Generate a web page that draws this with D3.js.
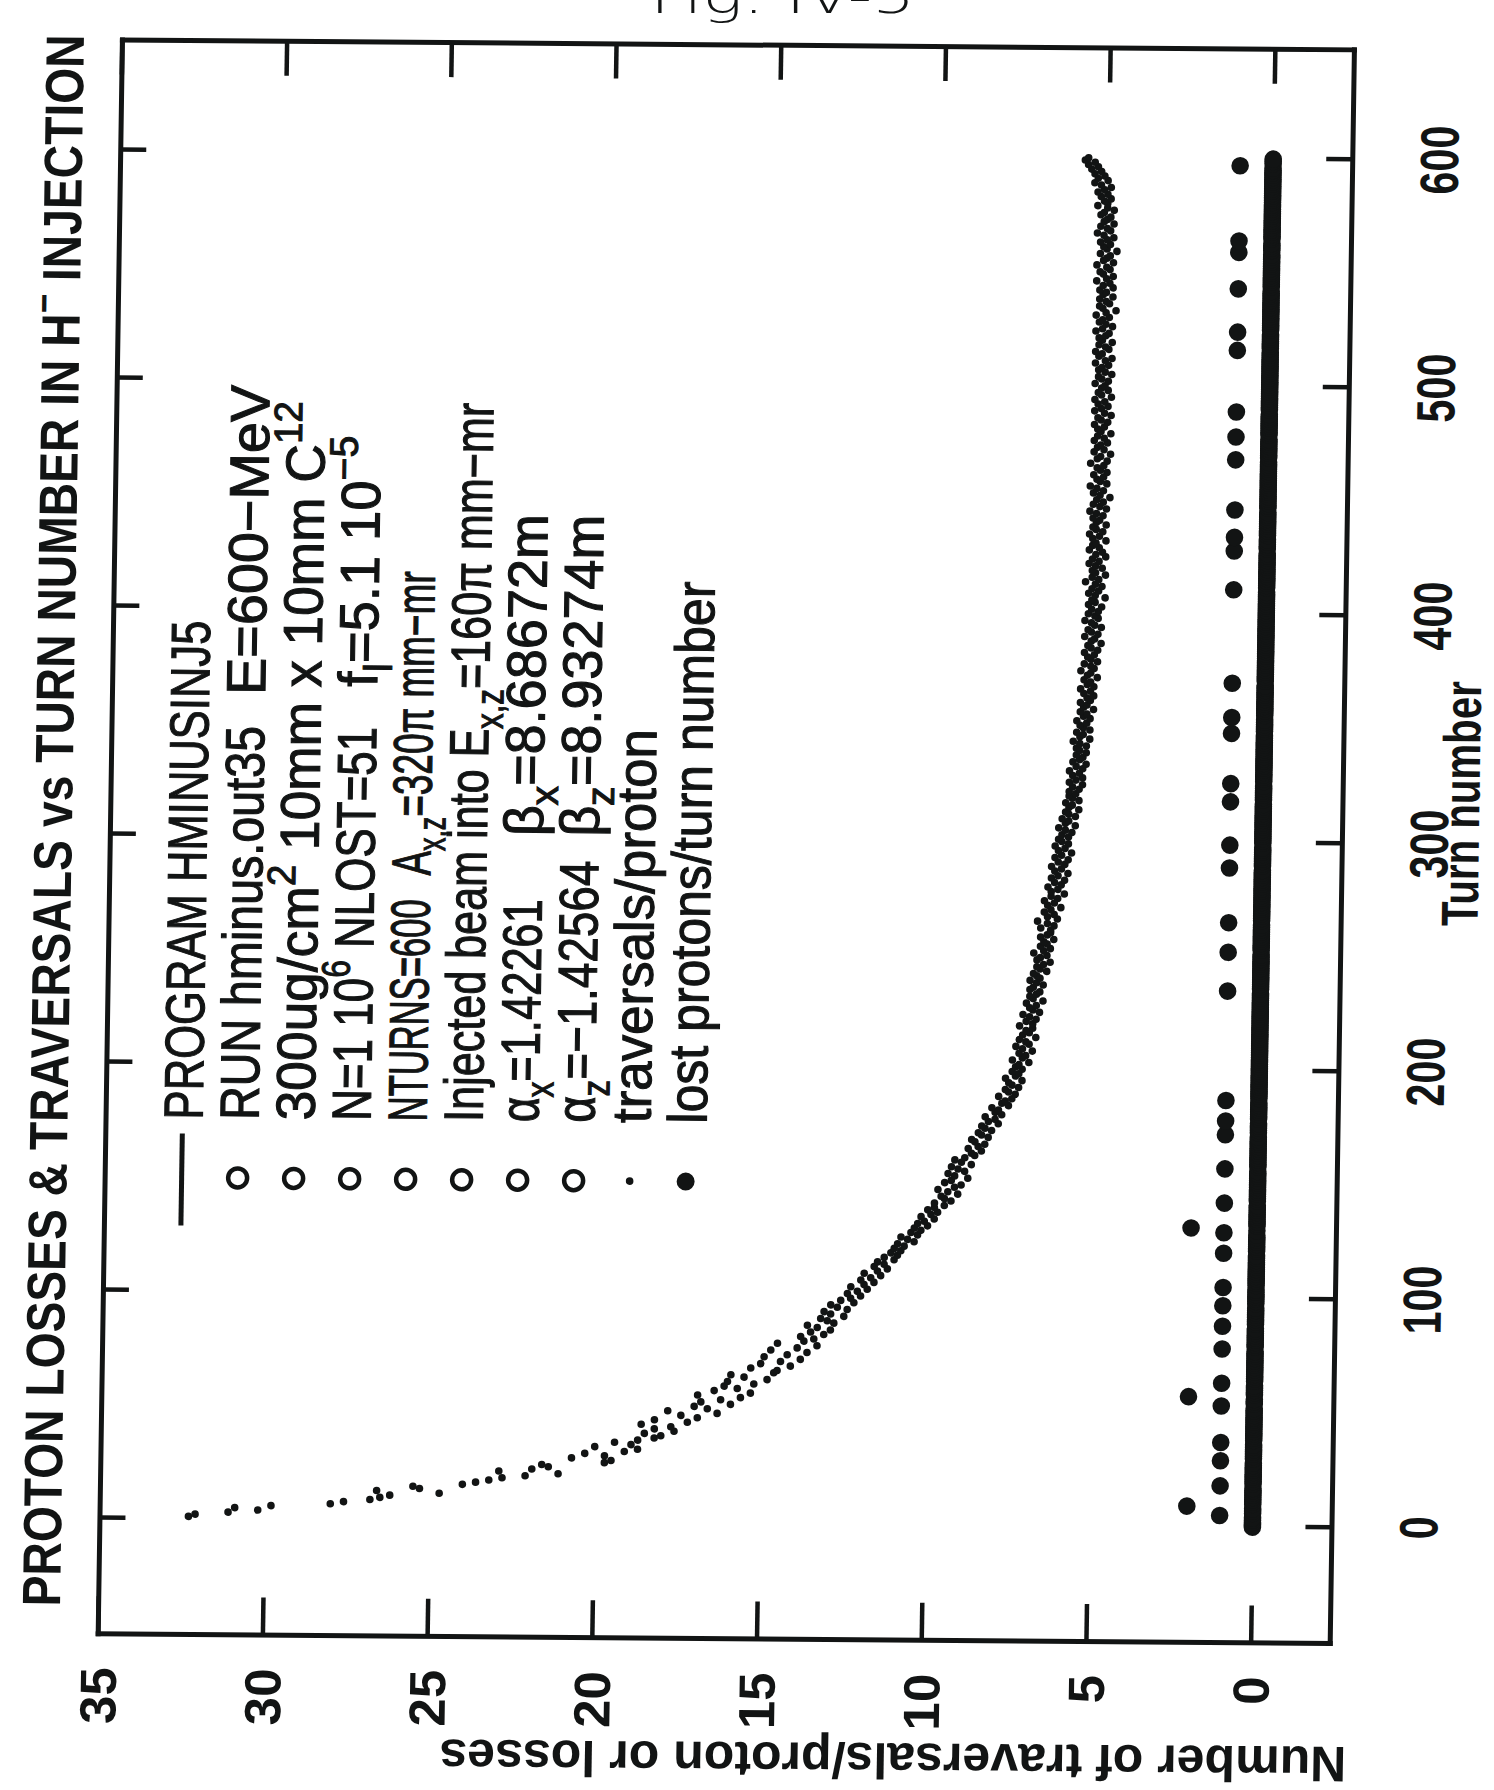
<!DOCTYPE html>
<html>
<head>
<meta charset="utf-8">
<script src="https://cdn.jsdelivr.net/npm/d3@7"></script>
<style>
  body { margin: 0; background: #fff; }
  svg { display: block; }
</style>
</head>
<body>
<div id="chart"></div>
<script>
// ---- data ----
const turnTicks = [0, 100, 200, 300, 400, 500, 600];
const valueTicks = [0, 5, 10, 15, 20, 25, 30, 35];

// traversals per proton, one value per turn (turns 1..600)
const traversals = [
  32.3,32.1,31.1,30.2,30.9,29.8,28.0,27.6,26.8,26.5,26.2,24.7,26.6,25.3,25.5,24.0,23.6,23.2,22.8,22.1,
  21.1,22.9,21.9,21.4,21.6,19.7,19.5,20.7,19.7,20.3,19.1,18.7,20.0,18.9,19.4,18.7,18.2,18.0,18.5,17.6,
  18.2,17.7,18.6,17.2,18.2,16.9,17.4,16.3,17.8,16.6,17.0,15.9,16.8,16.2,15.6,16.9,15.3,16.4,15.7,16.1,
  15.2,16.0,14.8,15.5,15.9,14.6,14.5,15.3,14.1,15.0,14.4,13.8,14.9,14.2,13.6,14.7,13.9,13.3,14.5,13.7,
  13.4,13.8,13.1,13.5,12.9,13.3,13.6,12.8,13.0,13.2,12.5,12.9,13.1,12.4,12.7,12.9,12.2,12.6,12.3,12.0,
  12.4,12.1,11.8,12.3,11.9,11.6,12.0,11.7,11.4,11.9,11.5,11.2,11.6,11.3,11.5,11.0,11.3,10.9,11.1,10.8,
  11.0,10.7,10.9,10.4,10.6,10.8,10.3,10.5,10.2,10.4,10.0,10.3,10.1,9.8,10.2,9.9,9.7,10.0,9.8,9.5,
  9.8,9.3,9.5,9.6,9.1,9.4,9.7,9.2,9.0,9.5,9.3,8.8,9.2,9.4,8.9,9.1,9.3,8.7,9.0,9.2,
  8.9,8.6,8.7,8.4,8.8,8.5,8.3,8.6,8.7,8.2,8.4,8.5,8.1,8.3,8.4,7.9,8.2,8.0,8.3,7.8,
  8.0,7.9,8.1,7.6,7.8,7.7,7.5,7.9,7.4,7.6,7.7,7.3,7.5,7.6,7.2,7.7,7.4,7.3,7.5,7.2,
  7.4,7.3,7.0,7.5,7.2,7.1,7.3,6.9,7.2,7.4,7.0,7.1,7.3,6.8,7.2,7.0,7.1,6.9,7.3,6.9,
  7.1,6.8,7.0,7.2,6.7,6.9,7.0,6.8,7.1,6.6,6.9,7.0,6.8,6.7,7.0,6.9,6.6,6.8,7.0,6.7,
  6.8,6.9,6.5,6.7,6.8,6.6,6.4,6.8,6.7,6.5,6.9,6.6,6.4,6.7,6.5,6.6,6.3,6.7,6.5,6.4,
  6.4,6.7,6.3,6.5,6.8,6.2,6.5,6.3,6.6,6.4,6.1,6.5,6.3,6.6,6.2,6.4,6.0,6.4,6.2,6.5,
  6.1,6.3,6.0,6.4,6.2,5.9,6.3,6.1,6.4,6.0,6.2,5.9,6.3,6.1,5.8,6.2,6.0,6.3,5.9,6.1,
  6.2,5.9,6.1,5.8,6.0,6.2,5.7,6.0,5.9,6.1,5.7,5.9,6.0,5.6,5.9,5.8,6.0,5.6,5.8,5.9,
  5.7,5.9,5.6,5.8,5.5,5.9,5.7,5.5,5.8,5.6,5.9,5.5,5.7,5.4,5.8,5.6,5.5,5.7,5.4,5.6,
  5.7,5.4,5.6,5.8,5.3,5.6,5.5,5.7,5.3,5.5,5.6,5.4,5.7,5.3,5.5,5.4,5.6,5.2,5.5,5.4,
  5.6,5.3,5.4,5.2,5.5,5.3,5.6,5.2,5.4,5.3,5.5,5.1,5.4,5.3,5.6,5.2,5.3,5.5,5.1,5.3,
  5.4,5.2,5.5,5.1,5.3,5.4,5.0,5.3,5.2,5.5,5.1,5.3,5.4,5.0,5.2,5.3,5.5,5.1,5.2,5.4,
  5.1,5.3,5.0,5.4,5.2,5.3,4.9,5.2,5.4,5.1,5.3,5.0,5.2,5.5,5.1,5.3,4.9,5.2,5.3,5.0,
  5.2,5.4,5.1,5.3,4.9,5.2,5.0,5.4,5.1,5.3,5.2,4.9,5.3,5.1,5.4,5.0,5.2,5.3,4.9,5.2,
  5.1,5.3,5.0,5.2,5.4,4.9,5.1,5.3,5.0,5.2,4.8,5.1,5.3,5.0,5.2,5.4,4.9,5.1,5.2,5.0,
  5.3,4.9,5.1,5.2,5.0,5.4,4.9,5.2,5.1,4.8,5.3,5.0,5.2,5.1,4.9,5.3,5.0,5.2,4.8,5.1,
  5.2,5.0,5.3,4.9,5.1,5.2,4.8,5.0,5.3,5.1,4.9,5.2,5.0,5.3,4.8,5.1,5.2,4.9,5.1,5.0,
  5.3,4.9,5.1,5.2,4.8,5.0,5.2,5.1,4.9,5.3,5.0,4.8,5.2,5.1,5.3,4.9,5.0,5.2,4.8,5.1,
  5.2,5.0,4.9,5.3,5.1,4.8,5.0,5.2,5.1,4.9,5.3,5.0,4.7,5.1,5.2,4.9,5.0,5.2,4.8,5.1,
  5.0,5.2,4.8,5.1,4.9,5.3,5.0,4.8,5.1,5.2,4.9,5.0,5.3,4.8,5.1,5.0,4.9,5.2,4.7,5.0,
  5.1,4.9,5.2,5.0,4.8,5.1,5.3,4.9,5.0,5.2,4.8,5.1,5.0,4.9,5.2,5.1,4.8,5.0,5.3,5.0,
  5.1,4.9,5.2,5.0,5.3,5.1,4.9,5.2,5.4,5.0,5.3,5.1,5.4,5.2,5.5,5.3,5.6,5.4,5.7,5.6
];

// turns where protons were lost, and how many (all other turns: 0)
const lostTurns = [5,9,18,29,37,53,57,63,78,88,97,105,120,129,131,142,157,172,178,187,
  235,252,265,289,299,318,326,348,355,370,411,428,434,446,468,478,489,516,524,543,559,564,597];
const lostCounts = [1,2,1,1,1,1,2,1,1,1,1,1,1,1,2,1,1,1,1,1,
  1,1,1,1,1,1,1,1,1,1,1,1,1,1,1,1,1,1,1,1,1,1,1];

const titleText = "PROTON LOSSES & TRAVERSALS vs TURN NUMBER IN H^{−} INJECTION";
const xTitle = "Turn number";
const yTitle = "Number of traversals/proton or losses";

const legendSymbols = ["line","circle","circle","circle","circle","circle","circle","circle","dot","bigdot"];
const legendLeft = [
  "PROGRAM  HMINUSINJ5",
  "RUN hminus.out35",
  "300ug/cm^{2}  10mm x 10mm C^{12}",
  "N=1  10^{6} NLOST=51",
  "NTURNS=600",
  "Injected beam into E_{x,z}=160π mm−mr",
  "α_{x}=1.42261",
  "α_{z}=−1.42564",
  "traversals/proton",
  "lost protons/turn number"
];
const legendRight = [null, "E=600−MeV", null, "f_{l}=5.1 10^{−5}", "A_{x,z}=320π mm−mr", null,
  "β_{x}=8.68672m", "β_{z}=8.93274m", null, null];

// ---- layout ----
const W = 1494, H = 1790;
const ink = "#121414";
const sans = "'Liberation Sans', Arial, Helvetica, sans-serif";

const svg = d3.select("#chart").append("svg")
  .attr("width", W).attr("height", H)
  .style("background", "#fff");

// handwritten tag, mostly cut by the top edge of the scan
svg.append("text")
  .attr("x", 650).attr("y", 13)
  .attr("font-family", "'DejaVu Sans', sans-serif")
  .attr("font-weight", 200)
  .attr("font-size", 48)
  .attr("textLength", 265).attr("lengthAdjust", "spacingAndGlyphs")
  .attr("fill", ink)
  .text("Fig. IV-5");

// the scanned page is slightly skewed, the plot itself is turned a quarter left
const page = svg.append("g")
  .attr("transform", "translate(747,895) matrix(1,0.008,-0.0152,1,0,0) translate(-747,-895)");
const g = page.append("g").attr("transform", `translate(0,${H}) rotate(-90)`);

const x = d3.scaleLinear().domain([-51, 648]).range([150.7, 1744.4]);
const y = d3.scaleLinear().domain([-2.4, 35]).range([1341, 109]);

function richText(sel, str, fs) {
  let shift = 0;
  str.split(/(\^\{[^}]*\}|_\{[^}]*\})/).filter(s => s).forEach(part => {
    const m = part.match(/^([\^_])\{(.*)\}$/);
    const target = m ? (m[1] === "^" ? -0.42 * fs : 0.26 * fs) : 0;
    sel.append("tspan")
      .attr("dy", target - shift)
      .attr("font-size", m ? fs * 0.72 : fs)
      .text(m ? m[2] : part);
    shift = target;
  });
}

function styleAxis(ax) {
  ax.select(".domain").attr("stroke", ink).attr("stroke-width", 5).attr("stroke-linecap", "square");
  ax.selectAll(".tick line").attr("stroke", ink).attr("stroke-width", 4.5);
}

// frame + ticks
const axB = g.append("g").attr("transform", `translate(0,${y.range()[0]})`)
  .call(d3.axisBottom(x).tickValues(turnTicks).tickSizeInner(-26).tickSizeOuter(0).tickPadding(0));
const axT = g.append("g").attr("transform", `translate(0,${y.range()[1]})`)
  .call(d3.axisTop(x).tickValues(turnTicks).tickSizeInner(-26).tickSizeOuter(0).tickFormat(() => ""));
const axL = g.append("g").attr("transform", `translate(${x.range()[0]},0)`)
  .call(d3.axisLeft(y).tickValues(valueTicks).tickSizeInner(-38).tickSizeOuter(0).tickPadding(33));
const axR = g.append("g").attr("transform", `translate(${x.range()[1]},0)`)
  .call(d3.axisRight(y).tickValues(valueTicks).tickSizeInner(-34).tickSizeOuter(0).tickFormat(() => ""));
[axB, axT, axL, axR].forEach(styleAxis);

axB.selectAll(".tick text")
  .attr("y", 106).attr("dy", 0)
  .attr("fill", ink)
  .attr("font-family", sans).attr("font-weight", "bold").attr("font-size", 54)
  .attr("textLength", d => String(d).length * 23).attr("lengthAdjust", "spacingAndGlyphs");

axL.selectAll(".tick text")
  .attr("dy", "0.36em")
  .attr("fill", ink)
  .attr("font-family", sans).attr("font-weight", "bold").attr("font-size", 51);

// titles
const title = g.append("text")
  .attr("x", 178).attr("y", 71)
  .attr("fill", ink)
  .attr("font-family", sans).attr("font-weight", "bold")
  .attr("textLength", 1572).attr("lengthAdjust", "spacingAndGlyphs");
richText(title, titleText, 54);

g.append("text")
  .attr("x", 992).attr("y", 1478)
  .attr("text-anchor", "middle")
  .attr("fill", ink)
  .attr("font-family", sans).attr("font-weight", "bold").attr("font-size", 52)
  .attr("textLength", 245).attr("lengthAdjust", "spacingAndGlyphs")
  .text(xTitle);

g.append("text")
  .attr("transform", "translate(48,906) rotate(-90)")
  .attr("text-anchor", "middle")
  .attr("fill", ink)
  .attr("font-family", sans).attr("font-weight", "bold").attr("font-size", 50)
  .attr("textLength", 907).attr("lengthAdjust", "spacingAndGlyphs")
  .text(yTitle);

// traversals per proton
g.append("g").selectAll("circle")
  .data(traversals)
  .join("circle")
  .attr("cx", (d, i) => x(i + 1))
  .attr("cy", d => y(d))
  .attr("r", 3.8)
  .attr("fill", ink);

// lost protons per turn (zero turns merge into the heavy bar)
const lostByTurn = new Map(lostTurns.map((t, i) => [t, lostCounts[i]]));
const lost = d3.range(0, 601).map(t => ({turn: t, n: lostByTurn.get(t) || 0}));
g.append("g").selectAll("circle")
  .data(lost)
  .join("circle")
  .attr("cx", d => x(d.turn))
  .attr("cy", d => y(d.n))
  .attr("r", 8.8)
  .attr("fill", ink);

// legend
const legFs = 55, legBase0 = 206, legStep = 56, legTextU = 666, legSymU = 608;
const legendLeftLen = [499, 394, 719, 394, 222, 719, 223, 262, 394, 542];
const legendRightU = [0, 1091, 0, 1100, 912, 0, 952, 952, 0, 0];
const legendRightLen = [0, 310, 0, 251, 304, 0, 322, 322, 0, 0];

const leg = g.append("g").attr("fill", ink).attr("font-family", sans)
  .attr("stroke", ink).attr("stroke-width", 1.1);
legendSymbols.forEach((s, i) => {
  const base = legBase0 + i * legStep;
  const cy = base - 20;
  if (s === "line") {
    leg.append("line").attr("x1", legSymU - 48).attr("x2", legSymU + 44)
      .attr("y1", cy).attr("y2", cy).attr("stroke", ink).attr("stroke-width", 5);
  } else if (s === "circle") {
    leg.append("circle").attr("cx", legSymU).attr("cy", cy).attr("r", 9.5)
      .attr("fill", "none").attr("stroke", ink).attr("stroke-width", 4.5);
  } else {
    leg.append("circle").attr("cx", legSymU).attr("cy", cy).attr("r", s === "dot" ? 3.8 : 9)
      .attr("fill", ink).attr("stroke", "none");
  }
  const t = leg.append("text").attr("x", legTextU).attr("y", base)
    .attr("textLength", legendLeftLen[i]).attr("lengthAdjust", "spacingAndGlyphs");
  richText(t, legendLeft[i], legFs);
  if (legendRight[i]) {
    const r = leg.append("text").attr("x", legendRightU[i]).attr("y", base)
      .attr("textLength", legendRightLen[i]).attr("lengthAdjust", "spacingAndGlyphs");
    richText(r, legendRight[i], legFs);
  }
});
</script>
</body>
</html>
